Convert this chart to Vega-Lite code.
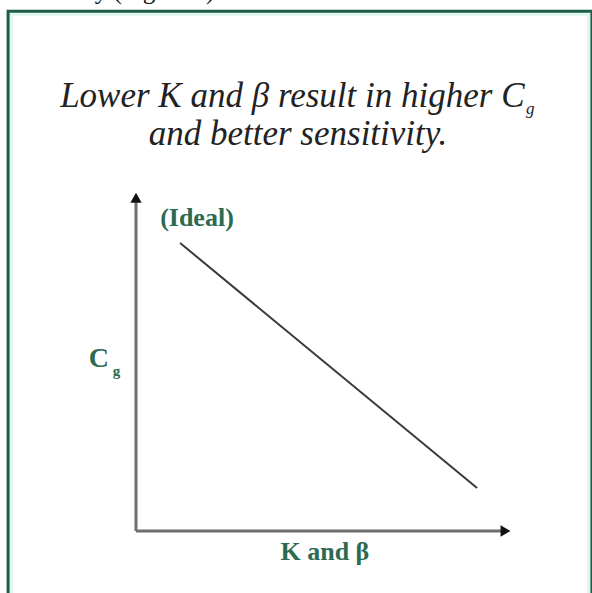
{
  "$schema": "https://vega.github.io/schema/vega-lite/v6.json",
  "autosize": "none",
  "width": 374,
  "height": 338,
  "padding": {"left": 136, "top": 193, "right": 82, "bottom": 62},
  "background": "white",
  "config": {"view": {"stroke": null}},
  "layer": [
    {
      "data": {"values": [{"x": -33.7, "x2": 121.4, "y": 153.3, "y2": -22}]},
      "mark": {"type": "rect", "fill": null, "stroke": "#dff6f1", "strokeWidth": 6},
      "encoding": {
        "x": {"field": "x", "type": "quantitative", "scale": {"domain": [0, 100], "nice": false, "zero": false}, "axis": null},
        "x2": {"field": "x2"},
        "y": {"field": "y", "type": "quantitative", "scale": {"domain": [0, 100], "nice": false, "zero": false}, "axis": null},
        "y2": {"field": "y2"}
      }
    },
    {
      "data": {"values": [{"x": -34.2, "x2": 121.9, "y": 153.8, "y2": -22}]},
      "mark": {"type": "rect", "fill": null, "stroke": "#1d5e44", "strokeWidth": 3},
      "encoding": {
        "x": {"field": "x", "type": "quantitative", "axis": null},
        "x2": {"field": "x2"},
        "y": {"field": "y", "type": "quantitative", "axis": null},
        "y2": {"field": "y2"}
      }
    },
    {
      "data": {"values": [
        {"x": 0, "x2": 0, "y": 0, "y2": 98},
        {"x": 0, "x2": 98, "y": 0, "y2": 0}
      ]},
      "mark": {"type": "rule", "stroke": "#6e6e6e", "strokeWidth": 3},
      "encoding": {
        "x": {"field": "x", "type": "quantitative", "axis": null},
        "x2": {"field": "x2"},
        "y": {"field": "y", "type": "quantitative", "axis": null},
        "y2": {"field": "y2"}
      }
    },
    {
      "data": {"values": [{"x": 11.8, "y": 85.2}, {"x": 91.2, "y": 12.7}]},
      "mark": {"type": "line", "stroke": "#3a3a3a", "strokeWidth": 2},
      "encoding": {
        "x": {"field": "x", "type": "quantitative", "axis": null},
        "y": {"field": "y", "type": "quantitative", "axis": null}
      }
    },
    {
      "data": {"values": [{"x": 0, "y": 98.6, "dir": "up"}, {"x": 98.8, "y": 0, "dir": "right"}]},
      "mark": {"type": "point", "filled": true, "size": 130, "color": "#111111", "opacity": 1},
      "encoding": {
        "x": {"field": "x", "type": "quantitative", "axis": null},
        "y": {"field": "y", "type": "quantitative", "axis": null},
        "shape": {"field": "dir", "type": "nominal", "scale": {"domain": ["up", "right"], "range": ["triangle-up", "triangle-right"]}, "legend": null}
      }
    },
    {
      "data": {"values": [{"x": 16.3, "y": 92.6, "label": "(Ideal)"}]},
      "mark": {"type": "text", "font": "Liberation Serif", "fontWeight": "bold", "fontSize": 26, "color": "#2c6a51", "align": "center", "baseline": "middle"},
      "encoding": {
        "x": {"field": "x", "type": "quantitative", "axis": null},
        "y": {"field": "y", "type": "quantitative", "axis": null},
        "text": {"field": "label"}
      }
    },
    {
      "data": {"values": [{"x": 50.5, "y": -6.2, "label": "K and β"}]},
      "mark": {"type": "text", "font": "Liberation Serif", "fontWeight": "bold", "fontSize": 26, "color": "#2c6a51", "align": "center", "baseline": "middle"},
      "encoding": {
        "x": {"field": "x", "type": "quantitative", "axis": null},
        "y": {"field": "y", "type": "quantitative", "axis": null},
        "text": {"field": "label"}
      }
    },
    {
      "data": {"values": [{"x": -9.9, "y": 51.0, "label": "C"}]},
      "mark": {"type": "text", "font": "Liberation Serif", "fontWeight": "bold", "fontSize": 28, "color": "#2c6a51", "align": "center", "baseline": "middle"},
      "encoding": {
        "x": {"field": "x", "type": "quantitative", "axis": null},
        "y": {"field": "y", "type": "quantitative", "axis": null},
        "text": {"field": "label"}
      }
    },
    {
      "data": {"values": [{"x": -5.2, "y": 47.4, "label": "g"}]},
      "mark": {"type": "text", "font": "Liberation Serif", "fontWeight": "bold", "fontSize": 15, "color": "#2c6a51", "align": "center", "baseline": "middle"},
      "encoding": {
        "x": {"field": "x", "type": "quantitative", "axis": null},
        "y": {"field": "y", "type": "quantitative", "axis": null},
        "text": {"field": "label"}
      }
    },
    {
      "data": {"values": [
        {"x": 41.8, "y": 125.4, "label": "Lower K and β result in higher C"},
        {"x": 43.3, "y": 114.2, "label": "and better sensitivity."}
      ]},
      "mark": {"type": "text", "font": "Liberation Serif", "fontStyle": "italic", "fontSize": 35, "color": "#222222", "align": "center", "baseline": "alphabetic"},
      "encoding": {
        "x": {"field": "x", "type": "quantitative", "axis": null},
        "y": {"field": "y", "type": "quantitative", "axis": null},
        "text": {"field": "label"}
      }
    },
    {
      "data": {"values": [{"x": 104.3, "y": 123.3, "label": "g"}]},
      "mark": {"type": "text", "font": "Liberation Serif", "fontStyle": "italic", "fontSize": 17, "color": "#222222", "align": "left", "baseline": "alphabetic"},
      "encoding": {
        "x": {"field": "x", "type": "quantitative", "axis": null},
        "y": {"field": "y", "type": "quantitative", "axis": null},
        "text": {"field": "label"}
      }
    },
    {
      "data": {"values": [{"x": -11.0, "y": 157.4, "label": "y (Figure 1)"}]},
      "mark": {"type": "text", "font": "Liberation Serif", "fontSize": 25, "color": "#111111", "align": "left", "baseline": "alphabetic"},
      "encoding": {
        "x": {"field": "x", "type": "quantitative", "axis": null},
        "y": {"field": "y", "type": "quantitative", "axis": null},
        "text": {"field": "label"}
      }
    }
  ]
}
